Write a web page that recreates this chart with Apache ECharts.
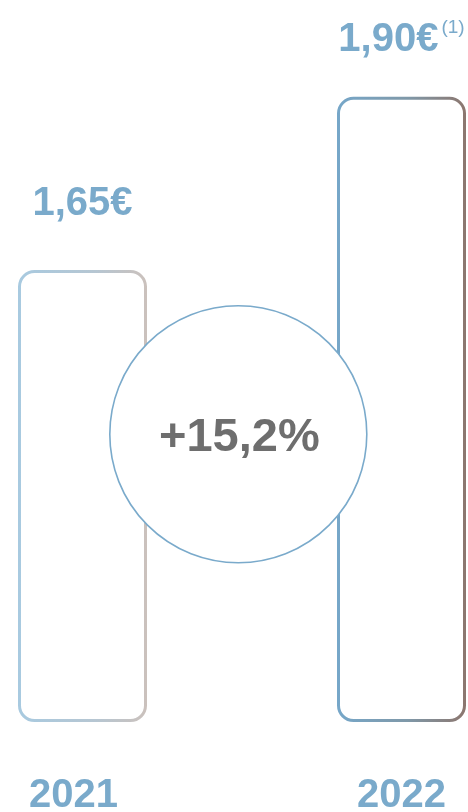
<!DOCTYPE html>
<html>
<head>
<meta charset="utf-8">
<script src="https://cdn.jsdelivr.net/npm/echarts@6/dist/echarts.min.js"></script>
<style>
    html, body { margin: 0; padding: 0; background: #fff; }
    #main { width: 468px; height: 812px; }
</style>
</head>
<body>
<div id="main"></div>
<script>
var years = ['2021', '2022'];
var dividends = [1.65, 1.90];
var footnotes = ['', '(1)'];

var myChart = echarts.init(document.getElementById('main'));

function fmt(v) {
    return v.toFixed(2).replace('.', ',') + '€';
}

// evolution between the two years
var growth = (dividends[1] / dividends[0] - 1) * 100;
var growthText = '+' + growth.toFixed(1).replace('.', ',') + '%';

var borderColors = [
    new echarts.graphic.LinearGradient(0, 0, 1, 0, [
        { offset: 0, color: '#a8cae0' },
        { offset: 0.6, color: '#b6c6d2' },
        { offset: 1, color: '#cbc1bc' }
    ]),
    new echarts.graphic.LinearGradient(0, 0, 1, 0, [
        { offset: 0, color: '#76a7c9' },
        { offset: 0.55, color: '#7f98a8' },
        { offset: 1, color: '#8c766e' }
    ])
];

var labelDist = [44, 35];

var option = {
    animation: false,
    grid: {
        left: 82.5,
        right: 66.5,
        top: 27.5,
        bottom: 91.5,
        outerBoundsMode: 'none'
    },
    xAxis: {
        type: 'category',
        boundaryGap: false,
        data: years.map(function (y, i) {
            return {
                value: y,
                textStyle: { padding: i === 0 ? [0, 18, 0, 0] : [0, 0, 0, 0] }
            };
        }),
        axisLine: { show: false },
        axisTick: { show: false },
        axisLabel: {
            margin: 55,
            fontSize: 40,
            fontWeight: 'bold',
            fontFamily: 'Liberation Sans',
            color: '#7aaacb'
        }
    },
    yAxis: {
        type: 'value',
        min: 1,
        max: 2,
        show: false,
        splitLine: { show: false }
    },
    series: [{
        type: 'bar',
        barWidth: 129,
        z: 2,
        data: dividends.map(function (v, i) {
            return {
                value: v,
                itemStyle: {
                    color: '#ffffff',
                    borderColor: borderColors[i],
                    borderWidth: 3,
                    borderRadius: 15
                },
                label: { distance: labelDist[i] }
            };
        }),
        label: {
            show: true,
            position: 'top',
            formatter: function (p) {
                var f = footnotes[p.dataIndex];
                return '{v|' + fmt(p.value) + '}' + (f ? '{s|' + f + '}' : '');
            },
            rich: {
                v: {
                    fontSize: 40,
                    fontWeight: 'bold',
                    fontFamily: 'Liberation Sans',
                    color: '#7aaacb',
                    lineHeight: 44
                },
                s: {
                    fontSize: 19,
                    fontFamily: 'Liberation Sans',
                    color: '#7aaacb',
                    verticalAlign: 'top',
                    padding: [0, 0, 0, 3]
                }
            }
        }
    }],
    graphic: [{
        type: 'circle',
        left: 109,
        top: 305,
        z: 100,
        shape: { r: 128.5 },
        style: {
            fill: '#ffffff',
            stroke: '#7aaacb',
            lineWidth: 1.6
        }
    }, {
        type: 'text',
        left: 159,
        top: 415,
        z: 101,
        style: {
            text: growthText,
            fontSize: 47,
            fontWeight: 'bold',
            fontFamily: 'Liberation Sans',
            fill: '#6e6e6e'
        }
    }]
};

myChart.setOption(option);
</script>
</body>
</html>
